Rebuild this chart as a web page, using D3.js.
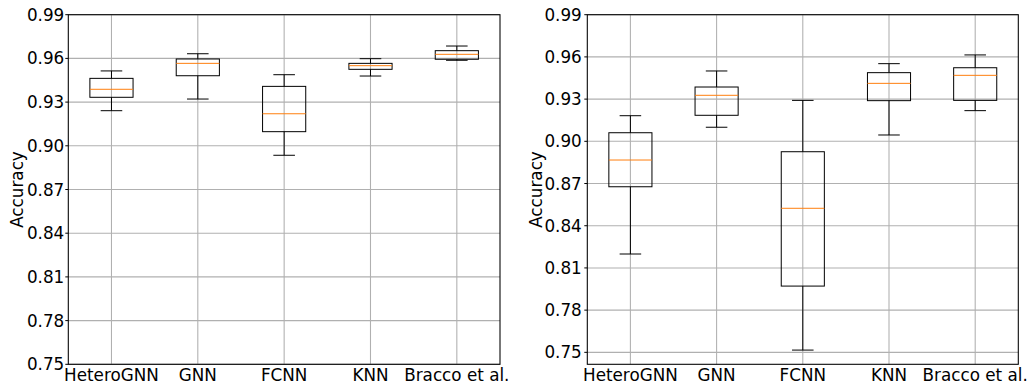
<!DOCTYPE html>
<html>
<head>
<meta charset="utf-8">
<script src="https://cdn.jsdelivr.net/npm/d3@7"></script>
<style>
  body { margin: 0; background: #fff; }
  text { font-family: "DejaVu Sans", sans-serif; fill: #000; }
</style>
</head>
<body>
<div id="chart"></div>
<script>
// categories and y ticks shared by both panels
const categories = ['HeteroGNN', 'GNN', 'FCNN', 'KNN', 'Bracco et al.'];
const yTicks = [0.75, 0.78, 0.81, 0.84, 0.87, 0.90, 0.93, 0.96, 0.99];

// box stats per model: [lower whisker, q1, median, q3, upper whisker]
const leftStats = [
  [0.9241, 0.9333, 0.9388, 0.9463, 0.9514],
  [0.9321, 0.9481, 0.9566, 0.9596, 0.9632],
  [0.8935, 0.9097, 0.9220, 0.9408, 0.9488],
  [0.9479, 0.9525, 0.9550, 0.9566, 0.9598],
  [0.9587, 0.9594, 0.9628, 0.9653, 0.9685],
];
const rightStats = [
  [0.8199, 0.8677, 0.8867, 0.9061, 0.9182],
  [0.9100, 0.9185, 0.9327, 0.9386, 0.9500],
  [0.7516, 0.7971, 0.8524, 0.8926, 0.9291],
  [0.9045, 0.9289, 0.9412, 0.9488, 0.9552],
  [0.9218, 0.9291, 0.9469, 0.9523, 0.9614],
];

const width = 1035;
const height = 385;
const fontSize = '16.8px';

const svg = d3.select('#chart')
  .append('svg')
  .attr('width', width)
  .attr('height', height);

function drawPanel(stats, box) {
  const { left, right, top, bottom, yMin, labelX, tickGap } = box;

  const x = d3.scaleBand()
    .domain(categories)
    .range([left, right]);

  const y = d3.scaleLinear()
    .domain([yMin, 0.99])
    .range([bottom, top]);

  const cx = d => x(d) + x.bandwidth() / 2;
  const g = svg.append('g');

  // grid
  g.selectAll('.hgrid')
    .data(yTicks)
    .enter()
    .append('line')
    .attr('x1', left)
    .attr('x2', right)
    .attr('y1', d => y(d))
    .attr('y2', d => y(d))
    .attr('stroke', '#b0b0b0')
    .attr('stroke-width', 1.07);

  g.selectAll('.vgrid')
    .data(categories)
    .enter()
    .append('line')
    .attr('x1', cx)
    .attr('x2', cx)
    .attr('y1', top)
    .attr('y2', bottom)
    .attr('stroke', '#b0b0b0')
    .attr('stroke-width', 1.07);

  // boxes
  const bw = x.bandwidth() * 0.5;
  const cw = x.bandwidth() * 0.25;
  const boxes = g.selectAll('.box')
    .data(stats)
    .enter()
    .append('g')
    .attr('transform', (d, i) => `translate(${cx(categories[i])},0)`);

  boxes.append('line') // lower whisker
    .attr('x1', 0).attr('x2', 0)
    .attr('y1', d => y(d[0])).attr('y2', d => y(d[1]))
    .attr('stroke', '#000');
  boxes.append('line') // upper whisker
    .attr('x1', 0).attr('x2', 0)
    .attr('y1', d => y(d[3])).attr('y2', d => y(d[4]))
    .attr('stroke', '#000');
  boxes.append('line') // caps
    .attr('x1', -cw / 2).attr('x2', cw / 2)
    .attr('y1', d => y(d[0])).attr('y2', d => y(d[0]))
    .attr('stroke', '#000');
  boxes.append('line')
    .attr('x1', -cw / 2).attr('x2', cw / 2)
    .attr('y1', d => y(d[4])).attr('y2', d => y(d[4]))
    .attr('stroke', '#000');
  boxes.append('rect')
    .attr('x', -bw / 2)
    .attr('width', bw)
    .attr('y', d => y(d[3]))
    .attr('height', d => y(d[1]) - y(d[3]))
    .attr('fill', 'none')
    .attr('stroke', '#000');
  boxes.append('line') // median
    .attr('x1', -bw / 2).attr('x2', bw / 2)
    .attr('y1', d => y(d[2])).attr('y2', d => y(d[2]))
    .attr('stroke', '#ff7f0e');

  // frame
  g.append('rect')
    .attr('x', left)
    .attr('y', top)
    .attr('width', right - left)
    .attr('height', bottom - top)
    .attr('fill', 'none')
    .attr('stroke', '#000')
    .attr('stroke-width', 1.07);

  // y tick marks
  g.selectAll('.ytick')
    .data(yTicks)
    .enter()
    .append('line')
    .attr('x1', left - 3)
    .attr('x2', left)
    .attr('y1', d => y(d))
    .attr('y2', d => y(d))
    .attr('stroke', '#000');

  // tick labels
  g.selectAll('.ylab')
    .data(yTicks)
    .enter()
    .append('text')
    .attr('x', left - tickGap)
    .attr('y', d => y(d))
    .attr('dy', '0.36em')
    .attr('text-anchor', 'end')
    .style('font-size', fontSize)
    .text(d => d.toFixed(2));

  g.selectAll('.xlab')
    .data(categories)
    .enter()
    .append('text')
    .attr('x', cx)
    .attr('y', bottom + 16.5)
    .attr('text-anchor', 'middle')
    .style('font-size', fontSize)
    .text(d => d);

  g.append('text')
    .attr('transform', `translate(${labelX},${(top + bottom) / 2}) rotate(-90)`)
    .attr('dy', '0.36em')
    .attr('text-anchor', 'middle')
    .style('font-size', fontSize)
    .text('Accuracy');
}

drawPanel(leftStats, {
  left: 68.3, right: 500, top: 14.7, bottom: 364.3,
  yMin: 0.75, labelX: 17, tickGap: 4,
});
drawPanel(rightStats, {
  left: 587.3, right: 1018.3, top: 14.7, bottom: 364.3,
  yMin: 0.7415, labelX: 536, tickGap: 5.5,
});
</script>
</body>
</html>
